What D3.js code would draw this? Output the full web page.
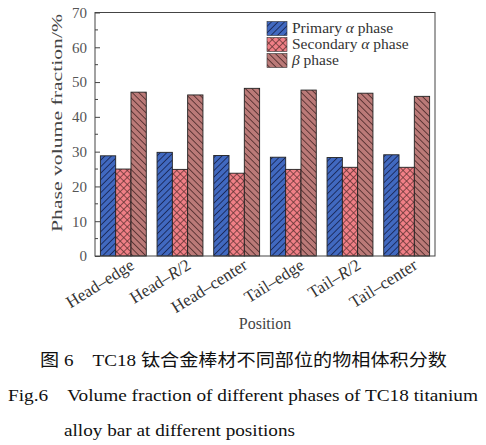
<!DOCTYPE html>
<html><head><meta charset="utf-8">
<script src="https://cdn.jsdelivr.net/npm/d3@7"></script>
<style>
body{margin:0;background:#fff;}
svg text{font-family:"Liberation Serif","Times New Roman",serif !important;}
svg text.cjk{font-family:"Liberation Serif","Noto Sans CJK SC",serif !important;}
</style></head>
<body>
<svg id="chart" width="486" height="445"></svg>
<script>
const categories = ["Head–edge","Head–R/2","Head–center","Tail–edge","Tail–R/2","Tail–center"];
const seriesNames = ["Primary α phase","Secondary α phase","β phase"];
const primaryAlpha = [28.8, 29.8, 28.9, 28.4, 28.3, 29.1];
const secondaryAlpha = [25.0, 24.9, 23.8, 24.9, 25.5, 25.5];
const betaPhase = [47.1, 46.3, 48.2, 47.7, 46.8, 45.9];
const yTicks = [0,10,20,30,40,50,60,70];

const series = [primaryAlpha, secondaryAlpha, betaPhase];
const svg = d3.select("#chart");
const m = {l:95, t:12.5, r:435, b:256};

const x = d3.scaleBand().domain(categories).range([m.l, m.r]).paddingInner(0.19).paddingOuter(0.095);
const xs = d3.scaleBand().domain(d3.range(3)).range([0, x.bandwidth()]);
const y = d3.scaleLinear().domain([0,70]).range([m.b, m.t]);

// patterns
const defs = svg.append("defs");
function hatch(id, bg, line, angle, sp, w){
  const p = defs.append("pattern").attr("id", id).attr("patternUnits","userSpaceOnUse")
    .attr("width", sp).attr("height", sp).attr("patternTransform", `rotate(${angle})`);
  p.append("rect").attr("width", sp).attr("height", sp).attr("fill", bg);
  p.append("line").attr("x1",0).attr("y1",0).attr("x2",0).attr("y2",sp).attr("stroke",line).attr("stroke-width",w);
}
hatch("p0", "#4169c0", "#1a2858", 45, 4.6, 1.8);
hatch("p2", "#bb7a78", "#4e2c2c", -45, 4.6, 1.7);
{
  const sp = 5;
  const p = defs.append("pattern").attr("id","p1").attr("patternUnits","userSpaceOnUse")
    .attr("width", sp).attr("height", sp).attr("patternTransform","rotate(45)");
  p.append("rect").attr("width", sp).attr("height", sp).attr("fill","#f07f86");
  p.append("line").attr("x1",0).attr("y1",0).attr("x2",0).attr("y2",sp).attr("stroke","#5e3232").attr("stroke-width",1.5);
  p.append("line").attr("x1",0).attr("y1",0).attr("x2",sp).attr("y2",0).attr("stroke","#5e3232").attr("stroke-width",1.5);
}

// bars
const g = svg.append("g");
categories.forEach((c, i) => {
  series.forEach((s, k) => {
    g.append("rect")
      .attr("x", x(c) + xs(k)).attr("y", y(s[i]))
      .attr("width", xs.bandwidth()).attr("height", y(0) - y(s[i]))
      .attr("fill", `url(#p${k})`).attr("stroke", "#222").attr("stroke-width", 0.9);
  });
});

// frame
svg.append("rect").attr("x", m.l).attr("y", m.t).attr("width", m.r - m.l).attr("height", m.b - m.t)
  .attr("fill","none").attr("stroke","#444").attr("stroke-width",1);

// y axis ticks (inward) + labels
const yAxis = svg.append("g").attr("transform", `translate(${m.l},0)`)
  .call(d3.axisLeft(y).tickValues(yTicks).tickSize(-5).tickPadding(8).tickFormat(d3.format("d")));
yAxis.attr("font-family", null);
yAxis.select(".domain").remove();
yAxis.selectAll(".tick line").attr("stroke","#444");
yAxis.selectAll(".tick text").attr("font-size", 15).attr("fill","#555");
const minor = d3.range(5, 70, 10);
svg.append("g").selectAll("line").data(minor).join("line")
  .attr("x1", m.l).attr("x2", m.l + 3).attr("y1", d => y(d)).attr("y2", d => y(d))
  .attr("stroke", "#444");

// x labels
const xl = svg.append("g");
categories.forEach(c => {
  const cx = x(c) + x.bandwidth()/2 + 12;
  const t = xl.append("text").attr("transform", `translate(${cx},268) rotate(-32)`)
    .attr("text-anchor","end").attr("font-size", 17).attr("fill","#333");
  if (c.includes("R/2")) {
    const parts = c.split("R");
    t.append("tspan").text(parts[0]);
    t.append("tspan").attr("font-style","italic").text("R");
    t.append("tspan").text(parts[1]);
  } else t.text(c);
});

// axis titles
svg.append("text").attr("x", 265).attr("y", 329).attr("text-anchor","middle")
  .attr("font-size", 16).attr("fill","#444").text("Position");
svg.append("text").attr("transform", "translate(62,123) rotate(-90)").attr("text-anchor","middle")
  .attr("font-size", 15).attr("fill","#444").attr("textLength", 218).attr("lengthAdjust","spacingAndGlyphs")
  .text("Phase volume fraction/%");

// legend
const lg = svg.append("g");
seriesNames.forEach((n, k) => {
  const yy = 21.5 + k * 16;
  lg.append("rect").attr("x", 267).attr("y", yy).attr("width", 20).attr("height", 14)
    .attr("fill", `url(#p${k})`).attr("stroke","#333").attr("stroke-width",0.6);
  const t = lg.append("text").attr("x", 292).attr("y", yy + 11.5).attr("font-size", 15.5).attr("fill","#333");
  const parts = n.split(/([αβ])/);
  parts.forEach(p => {
    if (!p) return;
    const ts = t.append("tspan").text(p);
    if (p === "α" || p === "β") ts.attr("font-style","italic");
  });
});

// caption
svg.append("text").attr("class","cjk").attr("x", 40).attr("y", 366).attr("font-size", 17.5).attr("fill","#111")
  .attr("textLength", 407).attr("lengthAdjust","spacingAndGlyphs")
  .text("图 6　TC18 钛合金棒材不同部位的物相体积分数");
svg.append("text").attr("x", 8).attr("y", 401).attr("font-size", 17.5).attr("fill","#111")
  .attr("textLength", 470).attr("lengthAdjust","spacingAndGlyphs")
  .attr("xml:space","preserve")
  .text("Fig.6    Volume fraction of different phases of TC18 titanium");
svg.append("text").attr("x", 64).attr("y", 436).attr("font-size", 17.5).attr("fill","#111")
  .attr("textLength", 231).attr("lengthAdjust","spacingAndGlyphs")
  .text("alloy bar at different positions");
</script>
</body></html>
